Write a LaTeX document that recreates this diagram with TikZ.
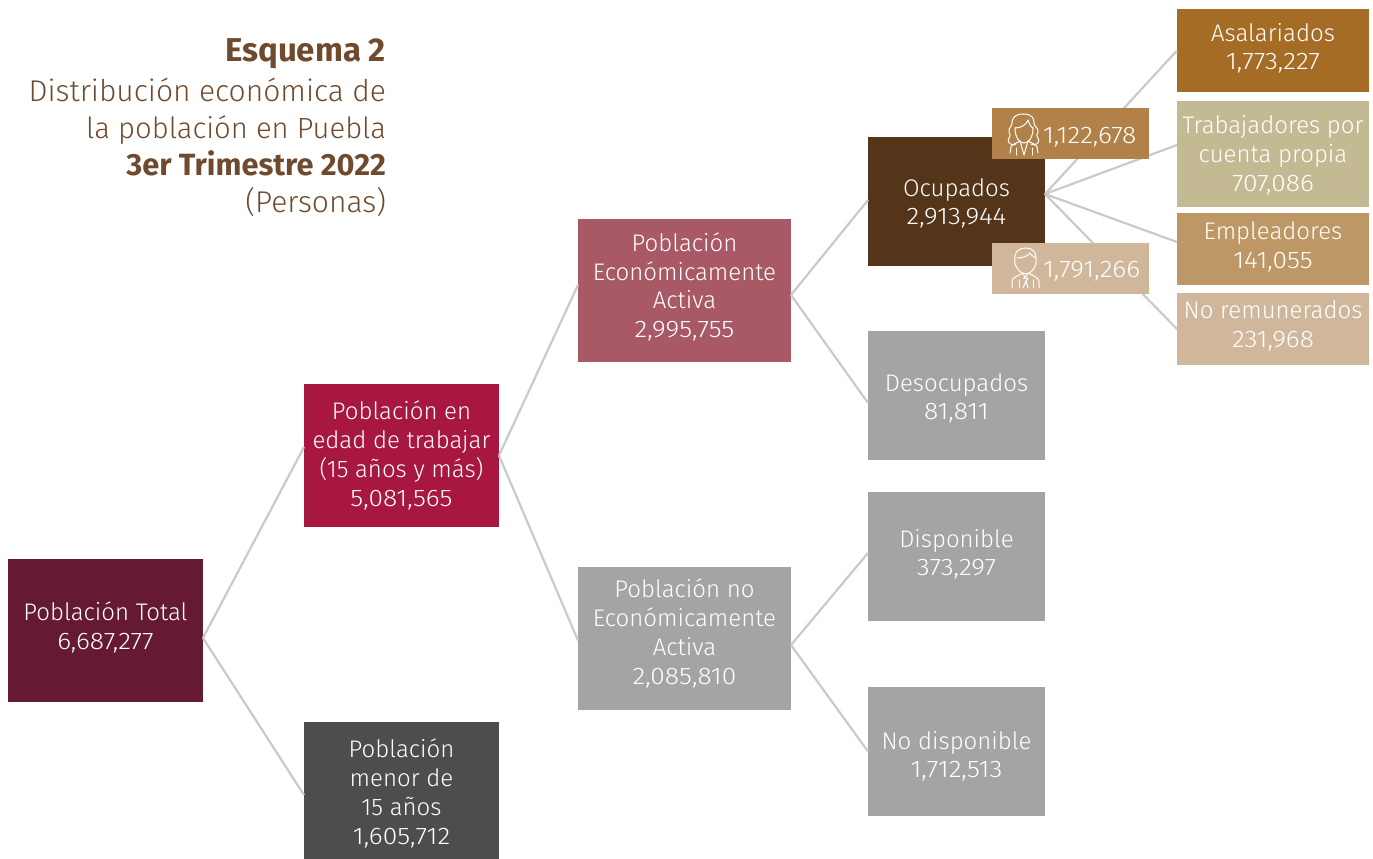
\documentclass[tikz,border=0pt]{standalone}
\usepackage{fontspec}
\setmainfont{Fira Sans}[UprightFont=* Light,BoldFont=* Bold,Numbers={Lining,Proportional}]
\newcommand{\nm}[1]{{\addfontfeature{FakeStretch=1.1}#1}}
\definecolor{cTot}{HTML}{651A32}
\definecolor{cPet}{HTML}{A8173F}
\definecolor{cMen}{HTML}{4D4D4D}
\definecolor{cPea}{HTML}{A95966}
\definecolor{cGry}{HTML}{A4A4A4}
\definecolor{cOcu}{HTML}{55351A}
\definecolor{cAsa}{HTML}{A56C25}
\definecolor{cTra}{HTML}{C3BA94}
\definecolor{cEmp}{HTML}{BD9766}
\definecolor{cNor}{HTML}{D0B79C}
\definecolor{cMuj}{HTML}{B28149}
\definecolor{cLin}{HTML}{CACACA}
\definecolor{cTit}{HTML}{6F4A2E}
\tikzset{
  x=1pt,y=-1pt,
  boxn/.style={inner sep=0pt,outer sep=0pt,text=white,align=center,font=\fontsize{24}{28.800}\selectfont},
  sbox/.style={boxn,minimum width=157pt,minimum height=51pt,anchor=north west,text width=157pt,align=left},
  link/.style={draw=cLin,line width=2.2pt},
  icon/.style={draw=white,line width=1pt,line cap=round,line join=round,fill=none},
  titl/.style={inner sep=0pt,outer sep=0pt,anchor=base east,text=cTit,font=\fontsize{30}{36}\selectfont},
}
\newcommand{\bx}[7]{\node[boxn,fill=#1,minimum width=#4 pt,minimum height=#5 pt,anchor=north west] (#2) at (#3) {\raisebox{\dimexpr#6pt-6pt\relax}[0pt][0pt]{\begin{tabular}{@{}c@{}}#7\end{tabular}}};}
\begin{document}
\begin{tikzpicture}
\useasboundingbox (0,0) rectangle (1373,859);
\bx{cTot}{tot}{8,559}{195}{143}{1}{Población Total\\\nm{6,687,277}}
\bx{cPet}{pet}{304,384}{195}{143}{-2}{Población en\\edad de trabajar\\(15 años y más)\\\nm{5,081,565}}
\bx{cMen}{men}{304,722}{195}{137}{-5}{Población\\menor de\\15 años\\\nm{1,605,712}}
\bx{cPea}{pea}{578,219}{213}{143}{1.500}{Población\\Económicamente\\Activa\\\nm{2,995,755}}
\bx{cGry}{pne}{578,567}{213}{143}{3}{Población no\\Económicamente\\Activa\\\nm{2,085,810}}
\bx{cOcu}{ocu}{868,137}{177}{129}{-3.500}{Ocupados\\\nm{2,913,944}}
\bx{cGry}{des}{868,331}{177}{129}{-4.500}{Desocupados\\\nm{81,811}}
\bx{cGry}{dis}{868,492}{177}{129}{0.500}{Disponible\\\nm{373,297}}
\bx{cGry}{nod}{868,687}{177}{129}{-6.500}{No disponible\\\nm{1,712,513}}
\bx{cAsa}{asa}{1177,9}{192}{83}{0.500}{Asalariados\\\nm{1,773,227}}
\bx{cTra}{tra}{1177,101}{192}{106}{-3}{Trabajadores por\\cuenta propia\\\nm{707,086}}
\bx{cEmp}{emp}{1177,213}{192}{72}{0.500}{Empleadores\\\nm{141,055}}
\bx{cNor}{nor}{1177,293}{192}{72}{1.500}{No remunerados\\\nm{231,968}}
% connectors
\draw[link] ([yshift=-7.500pt]tot.east) -- ([yshift=8.500pt]pet.west);
\draw[link] ([yshift=-7.500pt]tot.east) -- ([yshift=-4.500pt]men.west);
\draw[link] (pet.east) -- ([yshift=5.500pt]pea.west);
\draw[link] (pet.east) -- ([yshift=-2pt]pne.west);
\draw[link] ([yshift=-4.500pt]pea.east) -- ([yshift=1.500pt]ocu.west);
\draw[link] ([yshift=-4.500pt]pea.east) -- ([yshift=-7.500pt]des.west);
\draw[link] ([yshift=-6.500pt]pne.east) -- ([yshift=3.500pt]dis.west);
\draw[link] ([yshift=-6.500pt]pne.east) -- (nod.west);
\draw[link] ([yshift=7.500pt]ocu.east) -- (asa.west);
\draw[link] ([yshift=7.500pt]ocu.east) -- ([yshift=9pt]tra.west);
\draw[link] ([yshift=7.500pt]ocu.east) -- ([yshift=7pt]emp.west);
\draw[link] ([yshift=7.500pt]ocu.east) -- (nor.west);
\node[sbox,fill=cMuj] (muj) at (992,108) {\raisebox{-9.500pt}[0pt][0pt]{\hspace*{51pt}\nm{1,122,678}}};
\node[sbox,fill=cNor] (hom) at (992,243) {\raisebox{-8.500pt}[0pt][0pt]{\hspace*{51pt}\nm{1,791,266}}};
% woman icon
\begin{scope}[icon]
\draw (1010,153) -- (1011,147) .. controls (1012,144) and (1017,143) .. (1020,141) -- (1024,155) -- (1028,141) .. controls (1031,143) and (1036,144) .. (1037,147) -- (1038,153);
\draw (1016,155) -- (1016,148);
\draw (1032,155) -- (1032,148);
\draw (1023,114) .. controls (1015,114) and (1012,118) .. (1012,123)
  .. controls (1012,127) and (1008,128) .. (1009,132)
  .. controls (1010,135) and (1011,135) .. (1009,138)
  .. controls (1007,141) and (1009,144) .. (1013,145) -- (1016,144);
\draw (1023,114) .. controls (1032,114) and (1034,118) .. (1034,123)
  .. controls (1034,127) and (1039,128) .. (1038,132)
  .. controls (1037,135) and (1036,135) .. (1038,138)
  .. controls (1040,141) and (1038,144) .. (1034,145) -- (1031,144);
\draw (1015,128) .. controls (1021,128) and (1026,125) .. (1028,120) .. controls (1029,124) and (1031,127) .. (1033,128);
\draw (1015,128) .. controls (1015,137) and (1019,143) .. (1024,143) .. controls (1029,143) and (1033,137) .. (1033,128);
\end{scope}
% man icon
\begin{scope}[icon]
\draw (1012,288) -- (1012,282) .. controls (1012,277) and (1018,276) .. (1023,273) -- (1025,278) -- (1028,273) .. controls (1033,276) and (1039,277) .. (1039,282) -- (1039,288);
\draw (1023,278) -- (1028,278) -- (1026,281) -- (1028,288);
\draw (1026,281) -- (1023,288);
\draw (1019,288) -- (1019,280);
\draw (1033,288) -- (1033,280);
\draw (1015,264) .. controls (1013,250) and (1020,248) .. (1026,248) .. controls (1033,248) and (1037,252) .. (1036,264);
\draw (1015,264) .. controls (1017,270) and (1022,274) .. (1026,274) .. controls (1030,274) and (1034,270) .. (1036,264);
\draw (1017,258) .. controls (1023,258) and (1028,256) .. (1030,253) .. controls (1032,256) and (1034,257) .. (1036,258);
\end{scope}
\node[titl,font=\fontsize{33}{36}\selectfont] (t1) at (386,62) {\textbf{Esquema 2}};
\node[titl] (t2) at (386,101) {Distribución económica de};
\node[titl,font=\fontsize{29.200}{36}\selectfont] (t3) at (386,138) {la población en Puebla};
\node[titl,font=\fontsize{30.700}{36}\selectfont] (t4) at (386,175) {\textbf{3er Trimestre 2022}};
\node[titl] (t5) at (386,212) {(Personas)};
\end{tikzpicture}
\end{document}
